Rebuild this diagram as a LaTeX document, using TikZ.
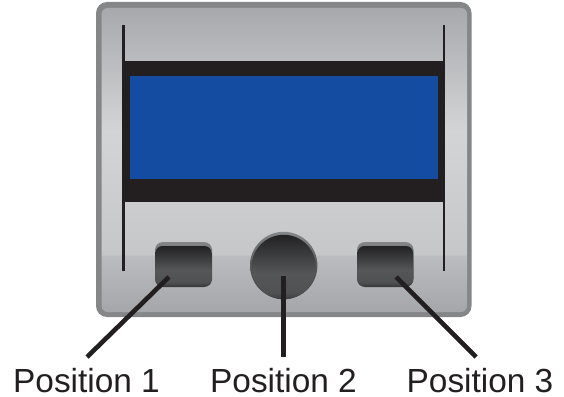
\documentclass[tikz,border=0pt]{standalone}
\usepackage{fontspec}
\setmainfont{Liberation Sans}
\definecolor{ink}{HTML}{231F20}
\definecolor{lcdblue}{HTML}{134CA0}
\definecolor{frame}{HTML}{858688}
\definecolor{pa}{HTML}{A5A6A9}
\definecolor{pb}{HTML}{BBBCBF}
\definecolor{pc}{HTML}{C6C7C9}
\definecolor{pd}{HTML}{D3D4D5}
\definecolor{pe}{HTML}{A8A9AD}
\definecolor{ca}{HTML}{3A3A3C}
\definecolor{cb}{HTML}{58585A}
\definecolor{fa}{HTML}{3C3C3E}
\definecolor{fb}{HTML}{505153}
\definecolor{fc}{HTML}{555658}
\definecolor{fd}{HTML}{222223}
\pgfdeclareverticalshading{panelshade}{100bp}{color(0bp)=(pa); color(25bp)=(pa); color(34.3bp)=(pb); color(34.4bp)=(pc); color(54.9bp)=(pd); color(75bp)=(pe); color(100bp)=(pe)}
\pgfdeclareverticalshading{ctlbase}{100bp}{color(0bp)=(ca); color(25bp)=(ca); color(50bp)=(cb); color(75bp)=(frame); color(100bp)=(frame)}
\pgfdeclareverticalshading{ctlface}{100bp}{color(0bp)=(fa); color(25bp)=(fa); color(30bp)=(fb); color(45bp)=(fc); color(75bp)=(fd); color(100bp)=(fd)}
\tikzset{
 x=1pt,y=-1pt,
 hairline/.style={draw=ink,line width=2.5pt},
 leader/.style={draw=ink,line width=4.6pt},
 lbl/.style={font=\fontsize{33.4}{36}\selectfont,text=ink,anchor=base,inner sep=0pt},
 ctlbasestyle/.style={shading=ctlbase,rounded corners=8pt},
 ctlfacestyle/.style={shading=ctlface,rounded corners=7pt},
}
\begin{document}
\begin{tikzpicture}
\useasboundingbox (0,0) rectangle (564,396);
% panel
\fill[frame,rounded corners=11pt] (96,2) rectangle (471.5,317);
\shade[shading=panelshade,rounded corners=6pt] (101.5,8) rectangle (467,312);
% side rails
\draw[hairline] (123.5,25) -- (123.5,271);
\draw[hairline] (444,25) -- (444,271);
% display
\fill[ink] (122,61) rectangle (444,202);
\fill[lcdblue] (130,76) rectangle (438,179);
% controls
\shade[ctlbasestyle] (155,242) rectangle (212,287);
\shade[ctlfacestyle] (155.5,246) rectangle (211.5,286);
\shade[ctlbasestyle] (357,242) rectangle (413.5,287);
\shade[ctlfacestyle] (357.5,246) rectangle (413,286);
\shade[shading=ctlbase] (283.7,265.5) circle[radius=33.7];
\shade[shading=ctlface] (283.7,267) circle[radius=32.2];
% labels
\node[lbl] (p1) at (86.5,392) {Position 1};
\node[lbl] (p2) at (283.5,392) {Position 2};
\node[lbl] (p3) at (480,392) {Position 3};
% leaders
\coordinate (b1) at (169,277);
\coordinate (b2) at (283.5,276);
\coordinate (b3) at (396,277);
\coordinate (e1) at (87,357);
\coordinate (e2) at (283.5,357);
\coordinate (e3) at (476,357);
\draw[leader] (b1) -- (e1);
\draw[leader] (b2) -- (e2);
\draw[leader] (b3) -- (e3);
\end{tikzpicture}
\end{document}
